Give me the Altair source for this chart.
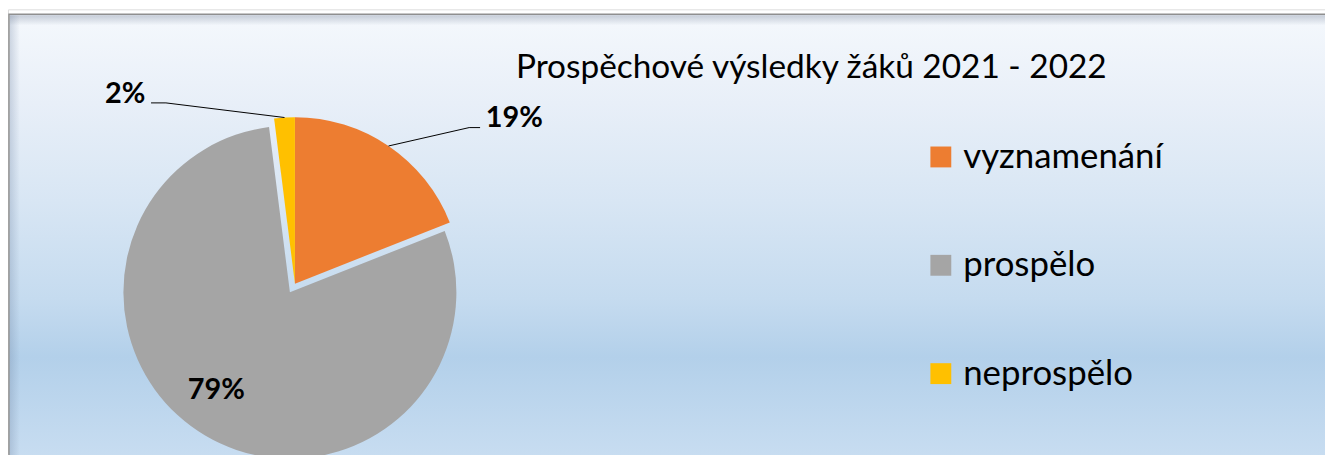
import altair as alt
import pandas as pd

# ---------------- data ----------------
title_text = "Prospěchové výsledky žáků 2021 - 2022"
categories = ["vyznamenání", "prospělo", "neprospělo"]
shares = [19, 79, 2]
labels = ["19%", "79%", "2%"]
colors = ["#ED7D31", "#A5A5A5", "#FFC000"]

# ---------------- layout / style ----------------
explode_px = [0, 10, 0]
label_angle = [54.4, 214.3, 316.8]     # degrees, clockwise from 12 o'clock
label_radius = [271.5, 140.5, 249.5]   # px from pie centre
leader_end_dx = [-34.5, 0, 26]
leader_knee_dx = [-45.5, 0, 41]
leader_dy = [1, 0, 0]
has_leader = [1, 0, 1]

W, H = 1325, 447
CX, CY, R = 288.7, 276, 167.5
FONT = "Lato"

df = pd.DataFrame(dict(
    cat=categories, value=shares, label=labels, order=list(range(len(categories))),
    explode=explode_px, la=label_angle, lr=label_radius,
    edx=leader_end_dx, kdx=leader_knee_dx, ldy=leader_dy, lead=has_leader,
))

base = (
    alt.Chart(df)
    .transform_window(cum="sum(value)", sort=[{"field": "order"}], frame=[None, 0])
    .transform_joinaggregate(total="sum(value)")
    .transform_calculate(a0="2*PI*(datum.cum-datum.value)/datum.total")
    .transform_calculate(a1="2*PI*datum.cum/datum.total")
    .transform_calculate(am="(datum.a0+datum.a1)/2")
    .transform_calculate(sx=f"{CX}+datum.explode*sin(datum.am)")
    .transform_calculate(sy=f"{CY}-datum.explode*cos(datum.am)")
    .transform_calculate(ox=f"datum.sx+{R}*sin(datum.am)")
    .transform_calculate(oy=f"datum.sy-{R}*cos(datum.am)")
    .transform_calculate(lx=f"{CX}+datum.lr*sin(datum.la*PI/180)")
    .transform_calculate(ly=f"{CY}-datum.lr*cos(datum.la*PI/180)")
    .transform_calculate(ex="datum.lx+datum.edx")
    .transform_calculate(kx="datum.lx+datum.kdx")
    .transform_calculate(ey="datum.ly+datum.ldy")
)

bg_gradient = alt.Gradient(
    gradient="linear", x1=0, x2=0, y1=0, y2=1,
    stops=[
        alt.GradientStop(offset=0.0, color="#e3e9f1"),
        alt.GradientStop(offset=0.025, color="#f3f7fc"),
        alt.GradientStop(offset=0.2, color="#e8eff8"),
        alt.GradientStop(offset=0.42, color="#d8e6f4"),
        alt.GradientStop(offset=0.64, color="#c5dbef"),
        alt.GradientStop(offset=0.77, color="#b3d0ea"),
        alt.GradientStop(offset=1.0, color="#c8ddf1"),
    ],
)
one = pd.DataFrame({"k": [0]})
background = alt.Chart(one).mark_rect(
    fill=bg_gradient, stroke="#8f8f8f", strokeWidth=1.5
).encode(x=alt.value(1), x2=alt.value(W + 6), y=alt.value(5), y2=alt.value(H + 6))

left_shadow = alt.Chart(one).mark_rect(
    fill=alt.Gradient(gradient="linear", x1=0, x2=1, y1=0, y2=0, stops=[
        alt.GradientStop(offset=0, color="rgba(110,130,160,0.28)"),
        alt.GradientStop(offset=1, color="rgba(110,130,160,0)"),
    ])
).encode(x=alt.value(2), x2=alt.value(12), y=alt.value(6), y2=alt.value(H + 6))

top_shadow = alt.Chart(one).mark_rect(
    fill=alt.Gradient(gradient="linear", x1=0, x2=0, y1=0, y2=1, stops=[
        alt.GradientStop(offset=0, color="rgba(110,120,140,0.25)"),
        alt.GradientStop(offset=1, color="rgba(110,120,140,0)"),
    ])
).encode(x=alt.value(2), x2=alt.value(W + 6), y=alt.value(6), y2=alt.value(16))

arcs = base.mark_arc(radius=R).encode(
    theta=alt.Theta("a0:Q", scale=None, stack=None),
    theta2=alt.Theta2("a1:Q"),
    x=alt.X("sx:Q", scale=None, axis=None),
    y=alt.Y("sy:Q", scale=None, axis=None),
    color=alt.Color(
        "cat:N",
        scale=alt.Scale(domain=categories, range=colors),
        sort=categories,
        legend=alt.Legend(
            title=None, orient="none", legendX=921, legendY=131,
            symbolType="square", symbolSize=441, symbolStrokeWidth=0,
            labelFont=FONT, labelFontSize=35, labelColor="black", labelLimit=0,
            rowPadding=73, labelOffset=5, padding=0, direction="vertical",
        ),
    ),
)

leader1 = base.transform_filter("datum.lead == 1").mark_rule(color="black", strokeWidth=1).encode(
    x=alt.X("ox:Q", scale=None, axis=None), y=alt.Y("oy:Q", scale=None, axis=None),
    x2="kx:Q", y2="ey:Q",
)
leader2 = base.transform_filter("datum.lead == 1").mark_rule(color="black", strokeWidth=1).encode(
    x=alt.X("kx:Q", scale=None, axis=None), y=alt.Y("ey:Q", scale=None, axis=None),
    x2="ex:Q", y2="ey:Q",
)

pct = base.mark_text(
    font=FONT, fontWeight="bold", fontSize=29, align="center", baseline="alphabetic", color="black"
).encode(
    x=alt.X("lx:Q", scale=None, axis=None), y=alt.Y("ly:Q", scale=None, axis=None), text="label:N"
)

title = alt.Chart(pd.DataFrame({"t": [title_text]})).mark_text(
    font=FONT, fontSize=33.6, align="left", baseline="alphabetic", color="black"
).encode(x=alt.value(511), y=alt.value(69), text="t:N")

chart = (
    alt.layer(background, left_shadow, top_shadow, arcs, leader1, leader2, pct, title)
    .properties(width=W, height=H, padding=0, autosize=alt.AutoSizeParams(type="none"))
    .configure_view(stroke=None)
    .configure(background="white")
)

chart.save("out.html", embed_options={"renderer": "svg", "actions": False})
